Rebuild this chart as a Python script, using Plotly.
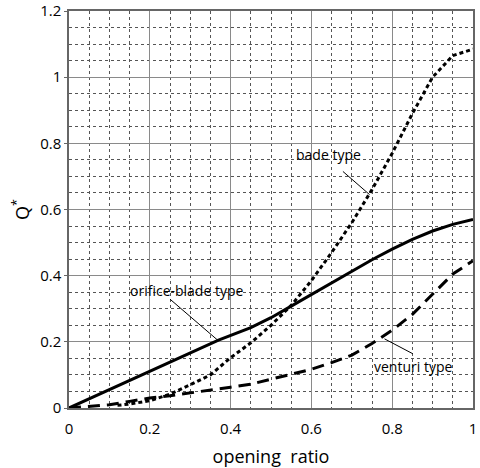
import plotly.graph_objects as go

# Data
orifice_x = [0, 0.1, 0.2, 0.3, 0.37, 0.45, 0.5, 0.55, 0.6, 0.65, 0.7, 0.75, 0.8, 0.85, 0.9, 0.95, 1.0]
orifice_y = [0, 0.055, 0.11, 0.165, 0.205, 0.243, 0.273, 0.308, 0.343, 0.378, 0.413, 0.448, 0.48, 0.51, 0.535, 0.555, 0.57]

bade_x = [0.12, 0.15, 0.2, 0.25, 0.3, 0.35, 0.4, 0.45, 0.5, 0.55, 0.6, 0.65, 0.7, 0.75, 0.8, 0.85, 0.9, 0.95, 1.0]
bade_y = [0.008, 0.012, 0.022, 0.042, 0.07, 0.1, 0.152, 0.197, 0.25, 0.31, 0.385, 0.47, 0.56, 0.66, 0.77, 0.89, 1.0, 1.065, 1.085]

venturi_x = [0, 0.05, 0.1, 0.15, 0.2, 0.25, 0.3, 0.35, 0.4, 0.45, 0.5, 0.55, 0.6, 0.65, 0.7, 0.75, 0.8, 0.85, 0.9, 0.95, 1.0]
venturi_y = [0, 0.005, 0.01, 0.02, 0.03, 0.037, 0.045, 0.055, 0.063, 0.072, 0.087, 0.1, 0.117, 0.137, 0.16, 0.195, 0.235, 0.283, 0.345, 0.405, 0.445]

x_ticks = [0, 0.2, 0.4, 0.6, 0.8, 1]
x_tick_labels = ["0", "0.2", "0.4", "0.6", "0.8", "1"]
y_ticks = [0, 0.2, 0.4, 0.6, 0.8, 1.0, 1.2]
y_tick_labels = ["0", "0.2", "0.4", "0.6", "0.8", "1", "1.2"]

# label text, text position, leader line (from, to)
labels = ["bade type", "orifice-blade type", "venturi type"]
label_pos = [(0.643, 0.765), (0.291, 0.356), (0.851, 0.124)]
leader_from = [(0.678, 0.715), (0.25, 0.329), (0.851, 0.164)]
leader_to = [(0.744, 0.645), (0.369, 0.204), (0.781, 0.209)]

FONT = "Open Sans"

fig = go.Figure()
fig.add_trace(go.Scatter(x=orifice_x, y=orifice_y, mode="lines",
                         line=dict(color="black", width=3), showlegend=False))
fig.add_trace(go.Scatter(x=bade_x, y=bade_y, mode="lines",
                         line=dict(color="black", width=3, dash="4px,3px"), showlegend=False))
fig.add_trace(go.Scatter(x=venturi_x, y=venturi_y, mode="lines",
                         line=dict(color="black", width=3, dash="12px,7px"), showlegend=False))

for t, p, a, b in zip(labels, label_pos, leader_from, leader_to):
    fig.add_trace(go.Scatter(x=[a[0], b[0]], y=[a[1], b[1]], mode="lines",
                             line=dict(color="black", width=1), showlegend=False))
    fig.add_annotation(x=p[0], y=p[1], text=t, showarrow=False,
                       font=dict(family=FONT, size=14, color="black"))

fig.update_xaxes(range=[0, 1], tickvals=x_ticks, ticktext=x_tick_labels,
                 showgrid=True, gridcolor="#8a8a8a", gridwidth=1.2,
                 minor=dict(dtick=0.05, showgrid=True, gridcolor="#555555", griddash="dot", gridwidth=1),
                 showline=True, linecolor="#666666", linewidth=1.5, mirror=True,
                 ticks="", zeroline=False, ticklabelstandoff=6, automargin=False,
                 tickfont=dict(family=FONT, size=15, color="black"),
                 title=dict(text="opening  ratio", font=dict(family=FONT, size=18, color="black"), standoff=14))
fig.update_yaxes(range=[0, 1.2], tickvals=y_ticks, ticktext=y_tick_labels,
                 showgrid=True, gridcolor="#8a8a8a", gridwidth=1.2,
                 minor=dict(dtick=0.05, showgrid=True, gridcolor="#555555", griddash="dot", gridwidth=1),
                 showline=True, linecolor="#666666", linewidth=1.5, mirror=True,
                 ticks="outside", ticklen=3, tickcolor="#666666", zeroline=False, automargin=False,
                 tickfont=dict(family=FONT, size=15, color="black"),
                 title=dict(text="Q<sup>*</sup>", font=dict(family=FONT, size=18, color="black"), standoff=6))

fig.update_layout(width=480, height=468, margin=dict(l=69, r=7, t=11, b=60),
                  plot_bgcolor="white", paper_bgcolor="white")

fig.write_html("out.html")
